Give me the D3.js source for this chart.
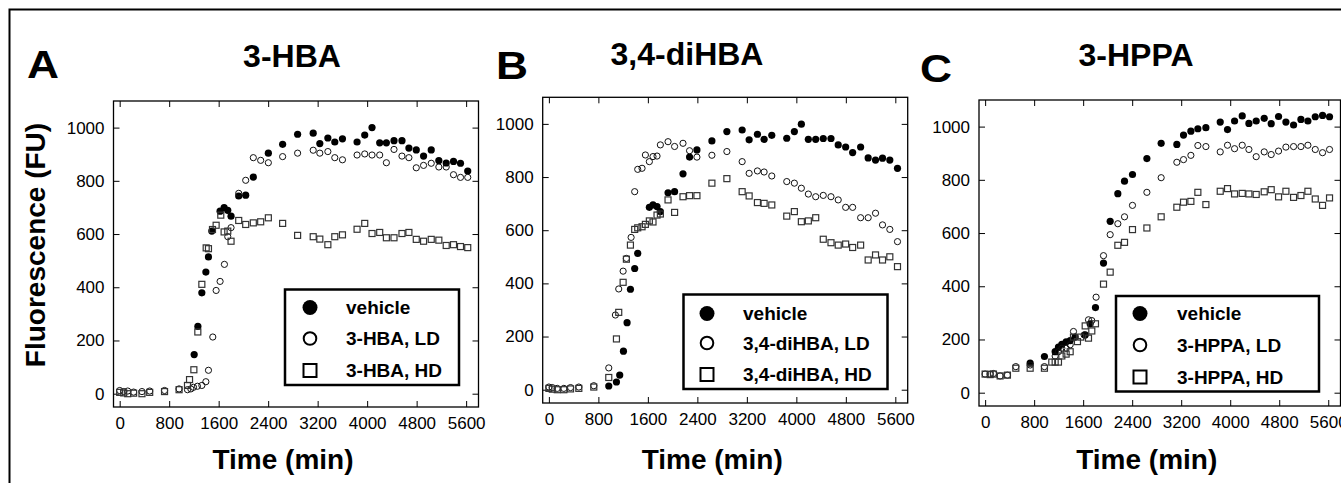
<!DOCTYPE html>
<html>
<head>
<meta charset="utf-8">
<script src="https://cdn.jsdelivr.net/npm/d3@7"></script>
<style>
  body { margin: 0; background: #fff; }
  text { font-family: "Liberation Sans", Arial, Helvetica, sans-serif; }
</style>
</head>
<body>
<script>
// time (min) / fluorescence (FU) pairs

var xTicks = [0, 800, 1600, 2400, 3200, 4000, 4800, 5600];
var yTicks = [0, 200, 400, 600, 800, 1000];

// panel A : 3-HBA
var aVehicle = [[1204,147],[1264,253],[1328,379],[1393,457],[1435,514],[1489,611],[1623,686],[1688,699],[1747,689],[1800,667],[1924,743],[2037,746],[2160,814],[2403,904],[2634,937],[2876,975],[3128,979],[3235,940],[3365,961],[3477,946],[3601,958],[3837,946],[3961,972],[4079,1000],[4203,943],[4311,943],[4434,951],[4563,951],[4675,923],[4794,916],[4912,893],[5036,916],[5159,876],[5278,867],[5396,873],[5509,866],[5626,837]];
var aLD = [[0,12],[65,8],[130,10],[225,6],[360,8],[485,10],[725,12],[960,18],[1096,15],[1150,18],[1193,24],[1257,28],[1328,31],[1393,45],[1435,88],[1505,213],[1559,388],[1623,422],[1693,486],[1747,590],[1800,624],[1924,753],[2037,802],[2160,887],[2279,877],[2403,868],[2634,891],[2876,904],[3128,915],[3235,904],[3365,910],[3477,887],[3601,879],[3837,897],[3961,901],[4079,897],[4203,897],[4311,868],[4434,918],[4563,893],[4675,887],[4794,849],[4912,858],[5036,866],[5159,852],[5278,852],[5396,823],[5509,813],[5626,813]];
var aHD = [[0,5],[65,3],[130,0],[225,2],[360,0],[485,5],[725,8],[960,15],[1096,31],[1129,53],[1199,90],[1263,232],[1328,411],[1398,548],[1435,545],[1500,617],[1559,633],[1634,671],[1688,608],[1747,611],[1800,573],[1924,651],[2037,636],[2160,642],[2279,646],[2403,661],[2634,640],[2876,595],[3128,590],[3235,581],[3365,560],[3477,590],[3601,597],[3837,618],[3961,640],[4079,602],[4203,606],[4311,586],[4434,586],[4563,602],[4675,606],[4794,580],[4912,573],[5036,580],[5159,577],[5278,557],[5396,560],[5509,553],[5626,549]];
var aNames = ["vehicle", "3-HBA, LD", "3-HBA, HD"];

// panel B : 3,4-diHBA
var bVehicle = [[968,14],[1092,29],[1145,55],[1205,145],[1264,252],[1318,378],[1387,456],[1436,513],[1624,686],[1683,695],[1748,689],[1802,670],[1926,741],[2032,745],[2168,812],[2274,875],[2393,902],[2635,936],[2877,971],[3124,977],[3237,940],[3371,961],[3479,942],[3603,957],[3845,946],[3968,971],[4081,999],[4194,942],[4313,942],[4435,945],[4560,945],[4677,921],[4797,913],[4910,892],[5039,913],[5161,872],[5280,864],[5393,871],[5511,864],[5635,833]];
var bLD = [[0,10],[55,8],[135,5],[242,5],[350,8],[484,10],[726,15],[968,82],[1075,281],[1129,379],[1200,446],[1253,494],[1329,573],[1387,745],[1436,829],[1506,833],[1560,883],[1624,858],[1683,877],[1748,879],[1802,921],[1926,933],[2032,915],[2168,927],[2274,899],[2393,875],[2635,882],[2877,896],[3124,858],[3237,814],[3371,823],[3479,819],[3603,804],[3845,783],[3968,777],[4081,758],[4194,736],[4313,726],[4435,731],[4560,726],[4677,714],[4797,686],[4910,686],[5039,647],[5161,647],[5280,664],[5393,620],[5511,603],[5635,557]];
var bHD = [[0,5],[55,2],[135,0],[242,0],[350,3],[484,5],[726,10],[968,46],[1092,191],[1129,291],[1200,404],[1253,491],[1318,544],[1387,603],[1436,609],[1506,613],[1560,622],[1624,635],[1683,631],[1748,657],[1802,661],[1926,714],[2032,667],[2168,726],[2274,730],[2393,730],[2635,777],[2877,794],[3124,745],[3237,729],[3371,704],[3479,701],[3603,695],[3845,653],[3968,670],[4081,632],[4194,635],[4313,647],[4435,566],[4560,553],[4677,544],[4797,548],[4910,535],[5039,544],[5161,488],[5280,507],[5393,488],[5511,500],[5635,463]];
var bNames = ["vehicle", "3,4-diHBA, LD", "3,4-diHBA, HD"];

// panel C : 3-HPPA
var cVehicle = [[735,111],[968,136],[1143,154],[1197,171],[1252,182],[1322,191],[1388,196],[1469,209],[1633,217],[1714,259],[1801,320],[1932,487],[2041,644],[2166,748],[2275,795],[2405,820],[2640,880],[2873,937],[3129,933],[3238,968],[3358,983],[3472,992],[3603,996],[3837,1017],[3956,989],[4071,1021],[4196,1040],[4305,1012],[4424,1021],[4555,1031],[4669,1011],[4789,1038],[4909,1017],[5034,1006],[5154,1027],[5268,1021],[5388,1037],[5507,1042],[5621,1037]];
var cLD = [[0,70],[82,70],[136,72],[245,63],[364,66],[501,98],[735,104],[968,98],[1143,138],[1197,154],[1252,167],[1322,167],[1388,180],[1442,230],[1615,217],[1687,274],[1741,271],[1811,359],[1932,515],[2041,594],[2166,635],[2275,661],[2405,704],[2640,753],[2873,808],[3129,866],[3238,876],[3358,892],[3472,929],[3603,925],[3837,905],[3956,930],[4071,917],[4196,930],[4305,914],[4424,887],[4555,905],[4669,895],[4789,908],[4909,923],[5034,925],[5154,925],[5268,930],[5388,914],[5507,902],[5621,914]];
var cHD = [[0,70],[82,68],[136,70],[245,63],[364,66],[501,92],[735,92],[968,92],[1088,115],[1143,115],[1197,115],[1252,138],[1322,145],[1388,154],[1442,209],[1507,192],[1561,209],[1633,251],[1687,205],[1741,232],[1801,259],[1932,408],[2041,453],[2166,554],[2275,565],[2405,613],[2640,619],[2873,661],[3129,697],[3238,716],[3358,719],[3472,753],[3603,707],[3837,757],[3956,767],[4071,747],[4196,749],[4305,747],[4424,745],[4555,755],[4669,763],[4789,736],[4909,757],[5034,734],[5154,741],[5268,757],[5388,728],[5507,704],[5621,732]];
var cNames = ["vehicle", "3-HPPA, LD", "3-HPPA, HD"];

var W = 1341, H = 483;

var svg = d3.select("body")
    .append("svg")
    .attr("width", W)
    .attr("height", H)
    .attr("id", "drawhere");

// outer frame of the figure
svg.append("rect")
    .attr("x", 9.5).attr("y", 9.5)
    .attr("width", W).attr("height", H)
    .style("fill", "none").style("stroke", "black").style("stroke-width", 2);

var panels = [
    {letter: "A", title: "3-HBA", series: [aVehicle, aLD, aHD], names: aNames,
     left: 113.5, right: 478.5, top: 101, bottom: 407,
     letterX: 27, letterY: 78, titleX: 292, titleY: 67,
     legend: {x: 285, y: 289.5, w: 174, h: 95.5, mx: 310, tx: 346, rows: [307.5, 338.5, 370.5]}},
    {letter: "B", title: "3,4-diHBA", series: [bVehicle, bLD, bHD], names: bNames,
     left: 542.7, right: 907.7, top: 97.3, bottom: 403,
     letterX: 496, letterY: 79, titleX: 687, titleY: 65,
     legend: {x: 683.5, y: 294.5, w: 204, h: 94.5, mx: 707, tx: 743, rows: [313.5, 343, 374.5]}},
    {letter: "C", title: "3-HPPA", series: [cVehicle, cLD, cHD], names: cNames,
     left: 979, right: 1340.5, top: 100, bottom: 406,
     letterX: 920, letterY: 82, titleX: 1136, titleY: 66,
     legend: {x: 1116, y: 296, w: 203, h: 95.5, mx: 1140, tx: 1177, rows: [313.5, 345, 377]}}
];

panels.forEach(drawPanel);

function drawPanel(p) {
    var x = d3.scaleLinear().domain([-100, 5800]).range([p.left, p.right]);
    var y = d3.scaleLinear().domain([-50, 1100]).range([p.bottom, p.top]);
    var g = svg.append("g");

    // axes: ticks point inward, on all four sides
    g.append("g").attr("transform", "translate(0," + p.bottom + ")")
        .call(d3.axisBottom(x).tickValues(xTicks).tickSizeInner(-6).tickSizeOuter(0)
            .tickPadding(10).tickFormat(d3.format("d")))
        .call(styleAxis);
    g.append("g").attr("transform", "translate(0," + p.top + ")")
        .call(d3.axisTop(x).tickValues(xTicks).tickSizeInner(-6).tickSizeOuter(0).tickFormat(""))
        .call(styleAxis);
    g.append("g").attr("transform", "translate(" + p.left + ",0)")
        .call(d3.axisLeft(y).tickValues(yTicks).tickSizeInner(-6).tickSizeOuter(0)
            .tickPadding(9).tickFormat(d3.format("d")))
        .call(styleAxis);
    g.append("g").attr("transform", "translate(" + p.right + ",0)")
        .call(d3.axisRight(y).tickValues(yTicks).tickSizeInner(-6).tickSizeOuter(0).tickFormat(""))
        .call(styleAxis);

    g.append("rect")
        .attr("x", p.left).attr("y", p.top)
        .attr("width", p.right - p.left).attr("height", p.bottom - p.top)
        .style("fill", "none").style("stroke", "black").style("stroke-width", 1.3);

    // points
    var clipId = "clip" + p.letter;
    svg.append("clipPath").attr("id", clipId)
        .append("rect").attr("x", p.left).attr("y", p.top)
        .attr("width", p.right - p.left).attr("height", p.bottom - p.top);
    var pts = g.append("g").attr("clip-path", "url(#" + clipId + ")");

    pts.selectAll(".veh").data(p.series[0]).enter()
        .append("circle")
        .attr("cx", function(d) { return x(d[0]); })
        .attr("cy", function(d) { return y(d[1]); })
        .attr("r", 3.6)
        .style("fill", "black");
    pts.selectAll(".ld").data(p.series[1]).enter()
        .append("circle")
        .attr("cx", function(d) { return x(d[0]); })
        .attr("cy", function(d) { return y(d[1]); })
        .attr("r", 3.1)
        .style("fill", "none")
        .style("stroke", "#111").style("stroke-width", 1);
    pts.selectAll(".hd").data(p.series[2]).enter()
        .append("rect")
        .attr("x", function(d) { return x(d[0]) - 3; })
        .attr("y", function(d) { return y(d[1]) - 3; })
        .attr("width", 6).attr("height", 6)
        .style("fill", "none")
        .style("stroke", "#333").style("stroke-width", 1.2);

    // legend
    var L = p.legend;
    g.append("rect")
        .attr("x", L.x).attr("y", L.y).attr("width", L.w).attr("height", L.h)
        .style("fill", "white").style("stroke", "black").style("stroke-width", 2.5);
    g.append("circle").attr("cx", L.mx).attr("cy", L.rows[0]).attr("r", 7.5)
        .style("fill", "black");
    g.append("circle").attr("cx", L.mx).attr("cy", L.rows[1]).attr("r", 6.3)
        .style("fill", "none").style("stroke", "black").style("stroke-width", 2);
    g.append("rect").attr("x", L.mx - 6.5).attr("y", L.rows[2] - 6.5)
        .attr("width", 13).attr("height", 13)
        .style("fill", "none").style("stroke", "black").style("stroke-width", 2);
    p.names.forEach(function(name, i) {
        g.append("text")
            .attr("x", L.tx).attr("y", L.rows[i] + 6.5)
            .attr("font-size", "19px").attr("font-weight", "bold")
            .text(name);
    });

    // labels
    g.append("text")
        .attr("x", p.letterX).attr("y", p.letterY)
        .attr("font-size", "38px").attr("font-weight", "bold")
        .attr("textLength", 32).attr("lengthAdjust", "spacingAndGlyphs")
        .text(p.letter);
    g.append("text")
        .attr("x", p.titleX).attr("y", p.titleY)
        .attr("text-anchor", "middle")
        .attr("font-size", "32px").attr("font-weight", "bold")
        .text(p.title);
    g.append("text")
        .attr("x", (p.left + p.right) / 2 - 13).attr("y", 469)
        .attr("text-anchor", "middle")
        .attr("font-size", "28px").attr("font-weight", "bold")
        .text("Time (min)");
}

function styleAxis(sel) {
    sel.select(".domain").remove();
    sel.selectAll(".tick line").style("stroke", "black").style("stroke-width", 1);
    sel.selectAll(".tick text")
        .style("font-size", "17px")
        .style("fill", "black");
}

// y axis title, only for the first panel
svg.append("text")
    .attr("transform", "translate(45,245) rotate(-90)")
    .attr("text-anchor", "middle")
    .attr("font-size", "28px").attr("font-weight", "bold")
    .text("Fluorescence (FU)");
</script>
</body>
</html>
